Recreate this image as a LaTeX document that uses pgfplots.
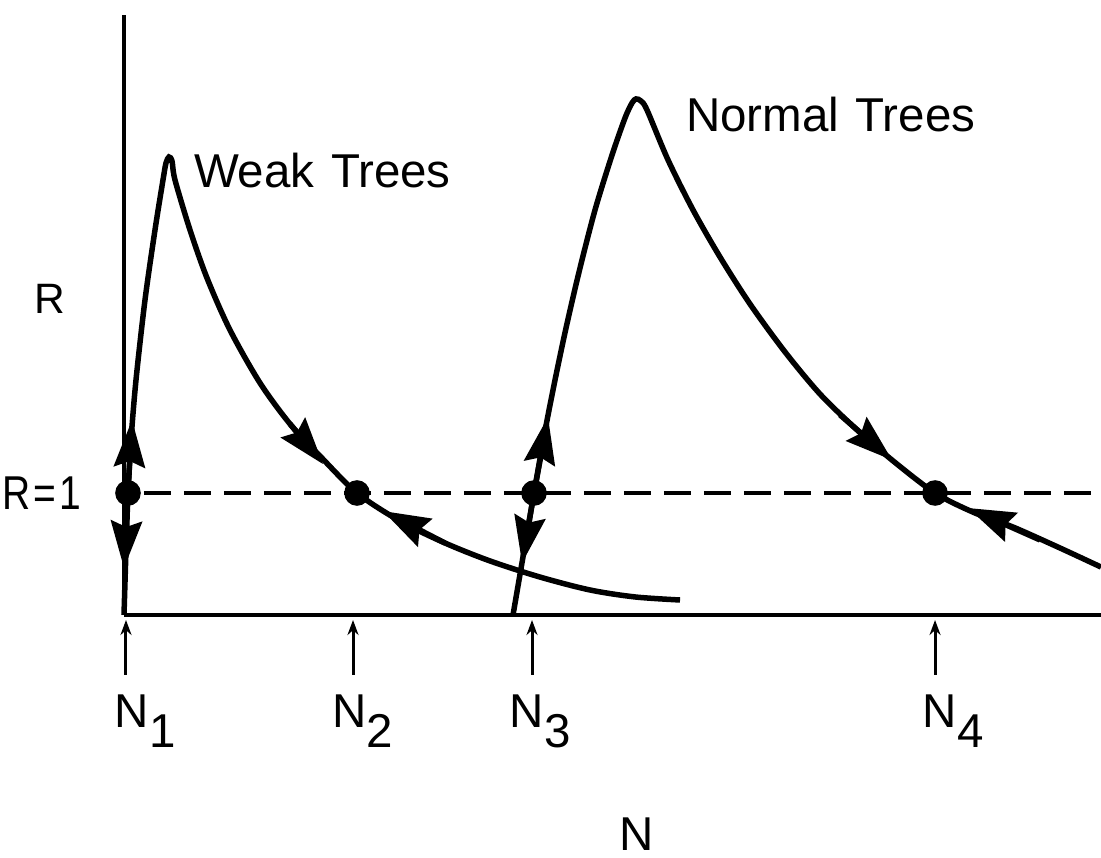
\documentclass[border=0pt]{standalone}
\usepackage{fontspec}
\setmainfont{Liberation Sans}
\newfontfamily\narrowfont[FakeStretch=0.82]{Liberation Sans}
\usepackage{pgfplots}
\pgfplotsset{compat=1.18}
\usetikzlibrary{arrows.meta}
\newcommand\sub[1]{\rlap{\raisebox{-4pt}{#1}}}
\pgfplotstableread{
x y
0.00 0.000
0.02 0.533
0.04 1.000
0.07 1.434
0.12 1.926
0.21 2.582
0.31 3.156
0.39 3.566
0.42 3.705
0.45 3.754
0.48 3.721
0.51 3.566
0.66 3.156
0.83 2.762
1.06 2.336
1.36 1.902
1.66 1.566
1.96 1.303
2.33 1.000
2.76 0.770
3.21 0.590
3.66 0.443
4.16 0.311
4.66 0.205
5.11 0.148
5.56 0.123
}\weak
\pgfplotstableread{
x y
3.89 0.000
4.10 1.000
4.21 1.508
4.31 1.926
4.42 2.352
4.55 2.811
4.71 3.320
4.88 3.770
5.01 4.074
5.08 4.197
5.12 4.230
5.17 4.213
5.23 4.139
5.44 3.730
5.69 3.320
5.96 2.934
6.26 2.549
6.61 2.156
6.96 1.811
7.32 1.525
7.68 1.270
8.11 1.000
8.51 0.836
8.89 0.721
9.36 0.549
9.77 0.393
}\normal
\begin{document}
\fontsize{9.5}{11}\selectfont
\begin{tikzpicture}
\useasboundingbox (-24.8pt,-48.6pt) rectangle (195.4pt,123pt);
\begin{axis}[
 at={(0pt,0pt)}, anchor=south west,
 scale only axis, width=195.4pt, height=120pt,
 xmin=0, xmax=9.77, ymin=0, ymax=4.918,
 axis x line=bottom, axis y line=left,
 axis line style={-, line width=0.7pt},
 clip=false,
 xtick={0.08,2.255,4.03,8.16},
 xticklabels={N\sub{1},N\sub{2},N\sub{3},N\sub{4}},
 ytick={1}, yticklabels={{\narrowfont R\hspace{0.6pt}=\hspace{0.6pt}1}},
 major tick length=0pt,
 xticklabel style={anchor=base, inner sep=0pt, yshift=-22.4pt},
 yticklabel style={anchor=east, inner sep=0pt, xshift=-8.4pt},
 xlabel=N, xlabel style={at={(axis description cs:0.525,0)}, anchor=base, inner sep=0pt, yshift=-47pt},
 ylabel=R, ylabel style={rotate=-90, at={(axis description cs:-0.0757,0.527)}, anchor=center, inner sep=0pt, font=\fontsize{8.5}{10}\selectfont},
 every axis plot/.append style={black, line width=1.1pt},
 harrow/.style={-{Stealth[length=9.4pt,width=6.2pt,inset=1.2pt]}},
 tarrow/.style={line width=0.6pt, -{Stealth[length=3pt,width=2.2pt]}},
]
% R = 1 line
\addplot[line width=0.7pt, dash pattern=on 5.4pt off 2.6pt] coordinates {(0.2,1) (9.77,1)};
% curves
\addplot[smooth, tension=0.5] table {\weak};
\addplot[smooth, tension=0.5] table {\normal};
% direction arrows
\addplot[harrow] coordinates {(0.04,1.0) (0.08,1.598)};
\addplot[harrow] coordinates {(0.04,1.0) (0.0,0.385)};
\addplot[harrow] coordinates {(1.66,1.566) (1.99,1.237)};
\addplot[harrow] coordinates {(3.21,0.590) (2.59,0.852)};
\addplot[harrow] coordinates {(4.10,1.0) (4.24,1.623)};
\addplot[harrow] coordinates {(4.10,1.0) (3.98,0.426)};
\addplot[harrow] coordinates {(7.16,1.640) (7.68,1.270)};
\addplot[harrow] coordinates {(9.16,0.615) (8.44,0.877)};
% equilibria
\addplot[only marks, mark=*, mark size=2pt] coordinates {(0.04,1) (2.33,1) (4.10,1) (8.11,1)};
% tick arrows
\addplot[tarrow] coordinates {(0.02,-0.49) (0.02,-0.041)};
\addplot[tarrow] coordinates {(2.29,-0.49) (2.29,-0.041)};
\addplot[tarrow] coordinates {(4.08,-0.49) (4.08,-0.041)};
\addplot[tarrow] coordinates {(8.11,-0.49) (8.11,-0.041)};
% labels
\node[anchor=base west, inner sep=0pt] at (axis cs:0.69,3.508) {Weak\hspace{3.3pt}Trees};
\node[anchor=base west, inner sep=0pt] at (axis cs:5.61,3.959) {Normal\hspace{3.3pt}Trees};
\end{axis}
\end{tikzpicture}
\end{document}
